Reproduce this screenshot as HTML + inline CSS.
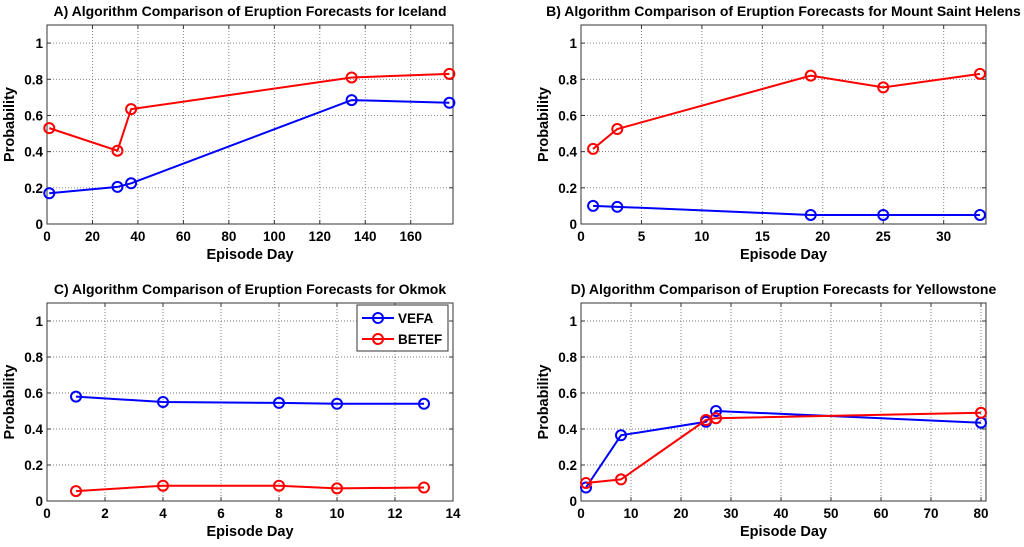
<!DOCTYPE html>
<html><head><meta charset="utf-8"><style>
body{margin:0;background:#fff;width:1024px;height:542px;overflow:hidden}
svg{font-family:"Liberation Sans",Arial,sans-serif;font-weight:bold}
</style></head><body>
<svg id="chart" width="1024" height="542"></svg>
<script>
const daysA=[1,31,37,134,177], vefaA=[0.17,0.205,0.225,0.685,0.67], betefA=[0.53,0.405,0.635,0.81,0.83];
const daysB=[1,3,19,25,33], vefaB=[0.10,0.095,0.05,0.05,0.05], betefB=[0.415,0.525,0.82,0.755,0.83];
const daysC=[1,4,8,10,13], vefaC=[0.58,0.55,0.545,0.54,0.54], betefC=[0.055,0.085,0.085,0.07,0.075];
const daysD=[1,8,25,27,80], vefaD=[0.075,0.365,0.44,0.5,0.435], betefD=[0.10,0.12,0.45,0.46,0.49];
const yTicks=[0,0.2,0.4,0.6,0.8,1];
const xTicksA=[0,20,40,60,80,100,120,140,160];
const xTicksB=[0,5,10,15,20,25,30];
const xTicksC=[0,2,4,6,8,10,12,14];
const xTicksD=[0,10,20,30,40,50,60,70,80];
const titles=["A) Algorithm Comparison of Eruption Forecasts for Iceland","B) Algorithm Comparison of Eruption Forecasts for Mount Saint Helens","C) Algorithm Comparison of Eruption Forecasts for Okmok","D) Algorithm Comparison of Eruption Forecasts for Yellowstone"];
const svg=document.getElementById('chart');
const NS='http://www.w3.org/2000/svg';
function mk(tag,attrs,parent){const e=document.createElementNS(NS,tag);for(const k in attrs)e.setAttribute(k,attrs[k]);(parent||svg).appendChild(e);return e;}
function panel(idx,L,R,T,B,xmax,xt,days,vefa,betef,legend){
  const g=mk('g',{});
  
  
  const xs=v=>L+(R-L)*v/xmax, ys=v=>B-(B-T)*v/1.1;
  mk('rect',{x:L,y:T,width:R-L,height:B-T,fill:'#fff'},g);
  xt.forEach(t=>{const x=xs(t);
    if(t>0&&t<xmax){const l=mk('line',{x1:x,x2:x,y1:T,y2:B,stroke:'#777','stroke-width':0.9,'stroke-dasharray':'1,2'},g);}
    mk('line',{x1:x,x2:x,y1:B,y2:B-4,stroke:'#333'},g);mk('line',{x1:x,x2:x,y1:T,y2:T+4,stroke:'#333'},g);
    const tx=mk('text',{x:x,y:B+17,'text-anchor':'middle','font-size':13.5},g);tx.textContent=t;
    });
  yTicks.forEach(t=>{const y=ys(t);
    if(t>0){const l=mk('line',{x1:L,x2:R,y1:y,y2:y,stroke:'#777','stroke-width':0.9,'stroke-dasharray':'1,2'},g);}
    mk('line',{x1:L,x2:L+4,y1:y,y2:y,stroke:'#333'},g);mk('line',{x1:R,x2:R-4,y1:y,y2:y,stroke:'#333'},g);
    const tx=mk('text',{x:L-4,y:y+5,'text-anchor':'end','font-size':13.5},g);tx.textContent=t;
    });
  mk('rect',{x:L,y:T,width:R-L,height:B-T,fill:'none',stroke:'#333','stroke-width':1},g);
  [[vefa,'#0000ff','vefa'],[betef,'#ff0000','betef']].forEach(([vals,c,n])=>{
    const pl=mk('polyline',{points:days.map((d,i)=>xs(d)+','+ys(vals[i])).join(' '),fill:'none',stroke:c,'stroke-width':2},g);
    
    days.forEach((d,i)=>{const ci=mk('circle',{cx:xs(d),cy:ys(vals[i]),r:5,fill:'none',stroke:c,'stroke-width':2},g);
      });
  });
  const tt=mk('text',{x:(L+R)/2,y:T-9,'text-anchor':'middle','font-size':14},g);tt.textContent=titles[idx];
  
  const xl=mk('text',{x:(L+R)/2,y:B+35,'text-anchor':'middle','font-size':14.5},g);xl.textContent='Episode Day';
  
  const yl=mk('text',{x:0,y:0,'text-anchor':'middle','font-size':14.5,transform:`translate(${L-33},${(T+B)/2}) rotate(-90)`},g);yl.textContent='Probability';
  
  if(legend){
    const lg=mk('g',{},g);
    mk('rect',{x:357,y:305,width:91,height:46,fill:'#fff',stroke:'#333'},lg);
    [['VEFA','#0000ff',318],['BETEF','#ff0000',339]].forEach(([lab,c,y])=>{
      const e=mk('g',{},lg);
      mk('line',{x1:362,x2:394,y1:y,y2:y,stroke:c,'stroke-width':2},e);
      mk('circle',{cx:378,cy:y,r:5,fill:'none',stroke:c,'stroke-width':2},e);
      const t=mk('text',{x:398,y:y+5,'font-size':13.5},e);t.textContent=lab;});
  }
}
panel(0,47,453,25,224,178.6,xTicksA,daysA,vefaA,betefA,false);
panel(1,581,986,25,224,33.5,xTicksB,daysB,vefaB,betefB,false);
panel(2,47,453,303,501,14,xTicksC,daysC,vefaC,betefC,true);
panel(3,581,986,303,501,81,xTicksD,daysD,vefaD,betefD,false);
</script>
</body></html>
